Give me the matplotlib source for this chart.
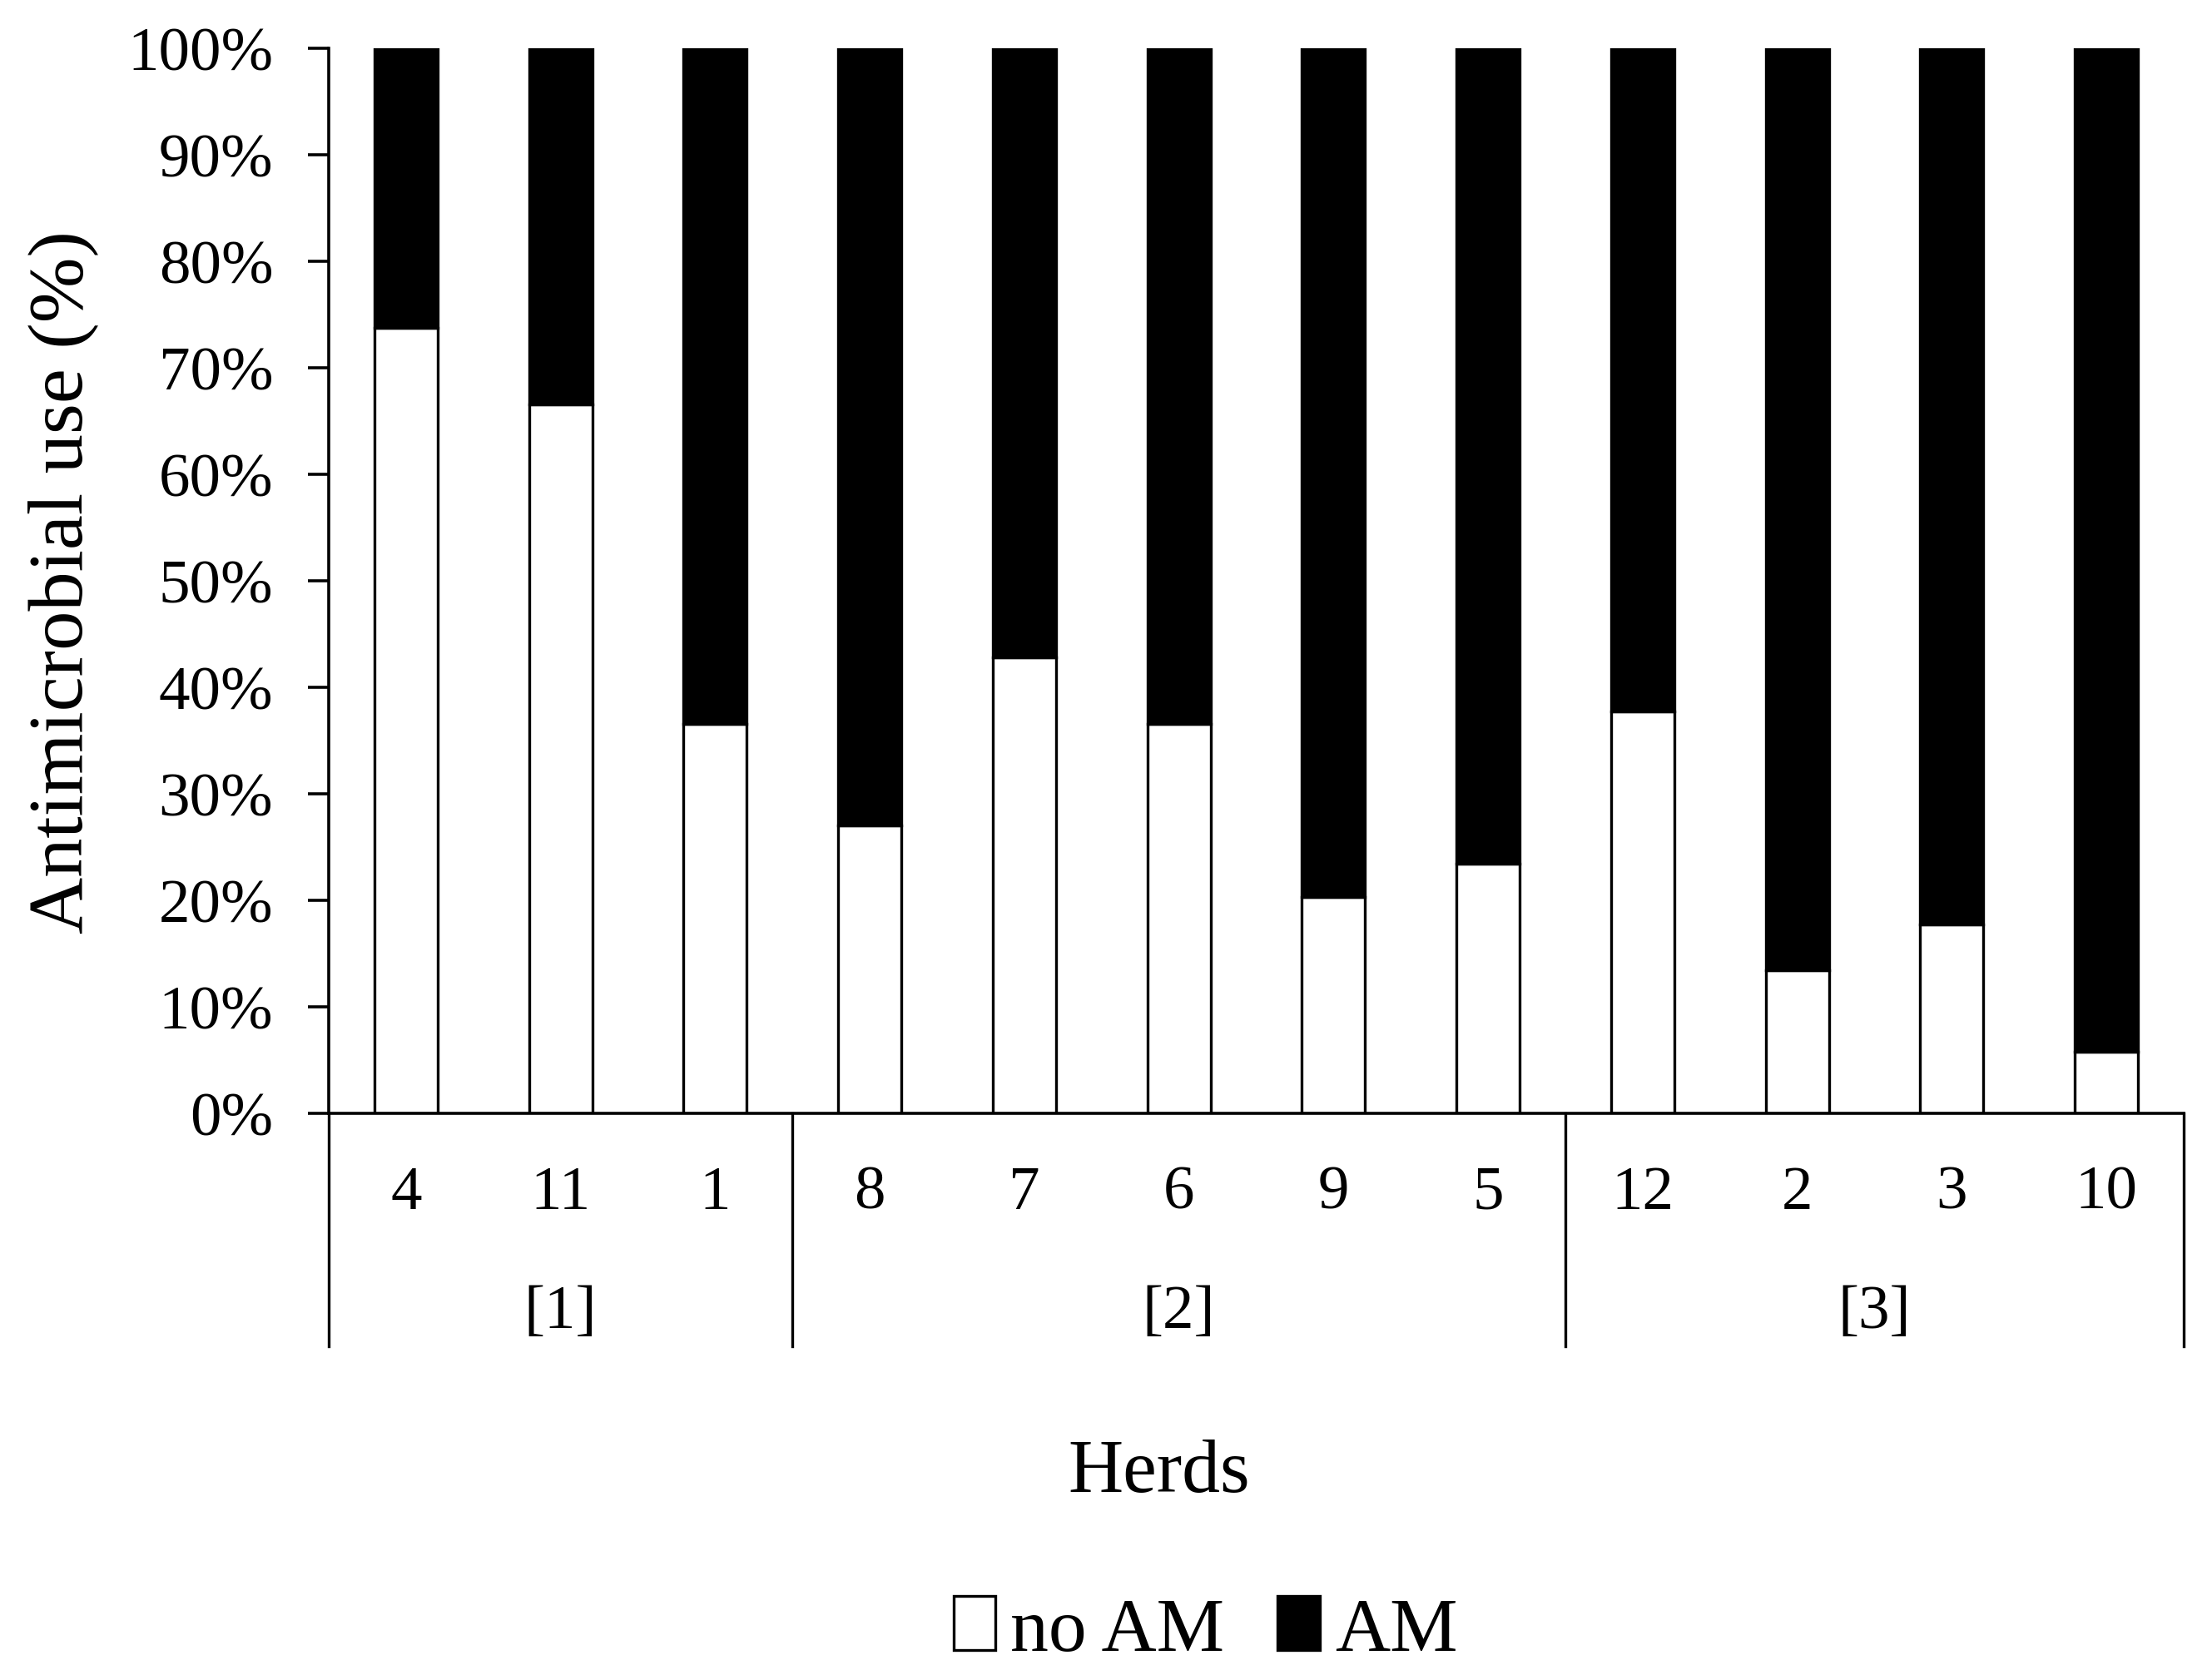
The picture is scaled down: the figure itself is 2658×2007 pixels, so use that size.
import matplotlib
matplotlib.use("Agg")
import matplotlib.pyplot as plt
import matplotlib.transforms as mtransforms
import numpy as np

plt.rcParams['font.family'] = ['Liberation Serif', 'DejaVu Serif']

# herds in plotted order, grouped
herds = ['4', '11', '1', '8', '7', '6', '9', '5', '12', '2', '3', '10']
groups = ['[1]', '[2]', '[3]']
group_sizes = [3, 5, 4]

# share of treatments (%)
no_am = [73.8, 66.6, 36.6, 27.0, 42.8, 36.6, 20.3, 23.4, 37.7, 13.4, 17.7, 5.8]
am = [26.2, 33.4, 63.4, 73.0, 57.2, 63.4, 79.7, 76.6, 62.3, 86.6, 82.3, 94.2]

fig = plt.figure(figsize=(13.29, 10.04), dpi=200)
ax = fig.add_axes([0.1486, 0.3332, 0.8386, 0.6373])

x = np.arange(len(herds))
ax.bar(x, no_am, width=0.41, color='white', edgecolor='black', lw=1.2, label='no AM')
ax.bar(x, am, bottom=no_am, width=0.41, color='black', edgecolor='black', lw=1.2, label='AM')

ax.set_xlim(-0.5, len(herds) - 0.5)
ax.set_ylim(0, 100)
ax.set_yticks(np.arange(0, 101, 10))
ax.set_yticklabels([f'{v}%' for v in range(0, 101, 10)], fontsize=27)
ax.tick_params(axis='y', length=9, width=1.3, pad=15)
ax.set_xticks([])
for s in ['top', 'right']:
    ax.spines[s].set_visible(False)
ax.spines['left'].set_linewidth(1.3)
ax.spines['bottom'].set_linewidth(1.3)

# herd labels, group labels and separators below the axis
trans = mtransforms.blended_transform_factory(ax.transData, ax.transAxes)
for xi, h in zip(x, herds):
    ax.text(xi, -0.075, h, transform=trans, ha='center', va='center', fontsize=27)

edges = np.concatenate([[0], np.cumsum(group_sizes)]) - 0.5
for b in edges:
    ax.plot([b, b], [0, -0.219], transform=trans, clip_on=False, color='black', lw=1.2)
for g, lo, hi in zip(groups, edges[:-1], edges[1:]):
    ax.text((lo + hi) / 2, -0.187, g, transform=trans, ha='center', va='center', fontsize=27)

ax.set_ylabel('Antimicrobial use (%)', fontsize=34)
ax.yaxis.set_label_coords(-0.124, 0.5)

fig.text(0.524, 0.118, 'Herds', ha='center', va='center', fontsize=33)

fig.legend(loc='center', bbox_to_anchor=(0.545, 0.0234), ncol=2, frameon=False,
           handlelength=0.55, handleheight=0.7, handletextpad=0.2,
           columnspacing=0.7, fontsize=33)

fig.savefig('out.png', dpi=200, facecolor='white')
